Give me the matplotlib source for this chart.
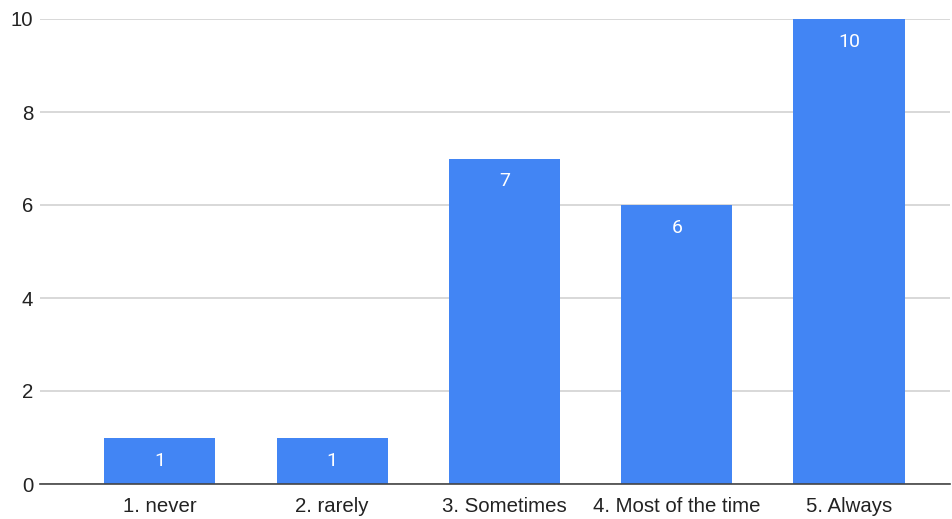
import matplotlib.pyplot as plt

categories = ['1. never', '2. rarely', '3. Sometimes', '4. Most of the time', '5. Always']
counts = [1, 1, 7, 6, 10]
yticks = [0, 2, 4, 6, 8, 10]

plt.rcParams['font.family'] = ['Liberation Sans', 'DejaVu Sans']

fig = plt.figure(figsize=(9.53, 5.19), dpi=100)
ax = fig.add_axes([40 / 953, 1 - 484 / 519, 910 / 953, 465 / 519])

x = list(range(len(categories)))
bars = ax.bar(x, counts, width=0.645, color='#4285F4', zorder=3)

for b, v in zip(bars, counts):
    ax.annotate(str(v), (b.get_x() + b.get_width() / 2, v),
                xytext=(0, -23), textcoords='offset pixels',
                ha='center', va='center', color='white', fontsize=14,
                family=['Roboto', 'DejaVu Sans'], zorder=4)

ax.set_xlim(-0.696, 4.586)
ax.set_ylim(0, 10)
ax.set_yticks(yticks)
ax.set_xticks(x)
ax.set_xticklabels(categories)
ax.tick_params(axis='both', length=0, labelsize=14.7, colors='#222222')
ax.tick_params(axis='x', pad=9)
ax.tick_params(axis='y', pad=5)

ax.grid(axis='y', color='#d6d6d6', linewidth=1.3, zorder=0)
for s in ['top', 'right', 'left']:
    ax.spines[s].set_visible(False)
ax.spines['bottom'].set_color('#444444')
ax.spines['bottom'].set_linewidth(1.2)
ax.spines['bottom'].set_zorder(5)

fig.savefig('out.png', dpi=100)
